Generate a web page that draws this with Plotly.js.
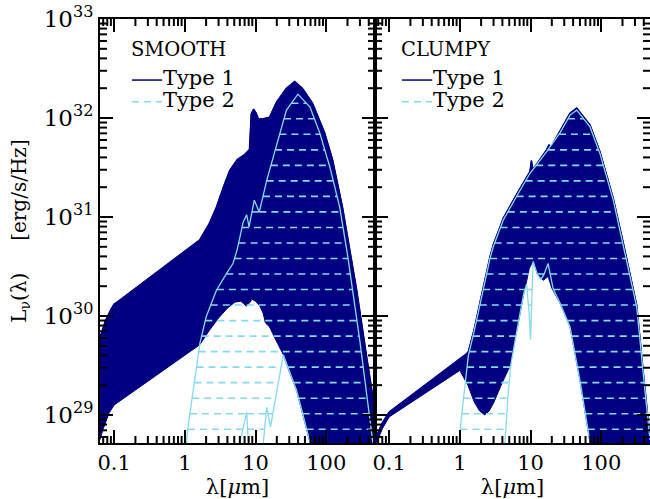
<!DOCTYPE html>
<html><head><meta charset="utf-8">
<script src="https://cdn.plot.ly/plotly-3.0.1.min.js"></script>
<style>html,body{margin:0;padding:0;background:#fff}#chart{width:650px;height:499px}</style>
</head><body><div id="chart"></div>
<script>
// ---------------- DATA (wavelength in micron, L_nu in erg/s/Hz) ----------------
// SMOOTH panel
const smoothType1UpperLam = [0.063, 0.075, 0.09, 0.1, 0.11, 1.1, 1.63, 2.2, 2.8, 3.5, 4.3, 5.5, 7.0, 8.2, 8.7, 9.4, 10.2, 11, 12.5, 15.8, 19.8, 27.3, 35.8, 46, 64, 95, 123, 170, 200, 270, 373, 490];
const smoothType1UpperL   = [6.03e29, 8.91e29, 1.17e30, 1.32e30, 1.38e30, 4.68e30, 5.89e30, 8.51e30, 1.26e31, 2.00e31, 2.95e31, 3.80e31, 4.27e31, 4.79e31, 1.10e32, 1.23e32, 1.12e32, 9.77e31, 9.77e31, 1.02e32, 1.45e32, 2.00e32, 2.34e32, 2.00e32, 1.41e32, 7.08e31, 3.80e31, 1.26e31, 6.31e30, 1.82e30, 3.89e29, 1.12e29];
const smoothType1LowerLam = [0.063, 0.07, 0.085, 0.1, 0.115, 1.63, 2.2, 3.0, 4.0, 5.1, 6.2, 7.4, 8.2, 8.9, 10, 11.5, 12.8, 13.8, 15.8, 19, 24.7, 30, 38, 47, 59, 70, 490];
const smoothType1LowerL   = [5.62e28, 7.24e28, 1.05e29, 1.26e29, 1.35e29, 5.13e29, 7.08e29, 9.55e29, 1.20e30, 1.38e30, 1.41e30, 1.26e30, 1.35e30, 1.48e30, 1.41e30, 1.26e30, 1.07e30, 8.51e29, 7.76e29, 5.89e29, 4.07e29, 2.75e29, 1.78e29, 1.00e29, 5.25e28, 1e28, 1e28];
const smoothType2UpperLam = [1.0, 1.06, 1.11, 1.38, 1.63, 2.0, 2.8, 3.9, 4.8, 5.5, 6.7, 7.5, 8.1, 9.6, 11.3, 14.4, 19.9, 27.4, 39.8, 58.9, 81, 112, 155, 200, 300, 444, 490];
const smoothType2UpperL   = [1e28, 5.25e28, 7.59e28, 2.24e29, 5.25e29, 9.77e29, 1.82e30, 2.69e30, 3.39e30, 4.68e30, 8.91e30, 1.05e31, 7.94e30, 1.48e31, 1.12e31, 2.34e31, 5.50e31, 1.20e32, 1.74e32, 1.29e32, 7.08e31, 3.24e31, 1.26e31, 4.17e30, 5.50e29, 6.31e28, 3.55e28];
const smoothType2LowerLam = [0.06, 5.9, 6.0, 7.5, 7.9, 8.0, 12.7, 12.9, 14.4, 16.3, 24.7, 30, 38, 47, 59, 70, 500];
const smoothType2LowerL   = [1e28, 1e28, 5.25e28, 1.07e29, 5.25e28, 1e28, 1e28, 5.25e28, 1.20e29, 7.59e28, 4.07e29, 2.75e29, 1.78e29, 1.00e29, 5.25e28, 1e28, 1e28];

// CLUMPY panel
const clumpyType1UpperLam = [0.063, 0.08, 0.1, 1.0, 1.25, 1.32, 1.6, 1.93, 2.3, 2.67, 2.97, 4.12, 6.37, 9.8, 10.3, 10.8, 16.9, 18.2, 19.2, 26.1, 36.2, 45, 69.4, 96, 148, 205, 318, 393, 490];
const clumpyType1UpperL   = [5.62e28, 8.32e28, 1.07e29, 3.63e29, 4.17e29, 4.37e29, 7.41e29, 1.38e30, 2.51e30, 3.98e30, 5.25e30, 9.77e30, 1.70e31, 2.88e31, 3.72e31, 3.02e31, 4.79e31, 5.37e31, 5.01e31, 7.41e31, 1.12e32, 1.26e32, 8.51e31, 4.57e31, 1.55e31, 5.50e30, 1.29e30, 2.75e29, 5.89e28];
const clumpyType1LowerLam = [0.063, 0.08, 0.1, 1.0, 1.3, 1.6, 1.9, 2.25, 2.6, 3.0, 4.0, 5.1, 6.0, 7.0, 8.0, 8.8, 9.6, 10.9, 12.5, 15.1, 17.7, 20, 26.1, 36.2, 50, 69.4, 80, 490];
const clumpyType1LowerL   = [4.79e28, 7.24e28, 9.55e28, 2.82e29, 2.00e29, 1.35e29, 1.10e29, 1.00e29, 1.10e29, 1.32e29, 2.14e29, 3.09e29, 5.62e29, 1.00e30, 1.66e30, 2.24e30, 3.02e30, 3.63e30, 2.63e30, 2.29e30, 2.51e30, 1.91e30, 1.35e30, 7.76e29, 2.24e29, 5.25e28, 1e28, 1e28];
const clumpyType2UpperLam = [0.9, 0.97, 1.1, 1.32, 1.6, 1.93, 2.3, 2.67, 2.97, 4.12, 6.37, 9.8, 16.9, 26.1, 36.2, 45, 69.4, 96, 148, 205, 318, 393, 490];
const clumpyType2UpperL   = [1e28, 5.25e28, 1.26e29, 3.98e29, 7.08e29, 1.32e30, 2.40e30, 3.80e30, 5.01e30, 9.33e30, 1.62e31, 2.75e31, 4.57e31, 7.08e31, 1.07e32, 1.20e32, 8.13e31, 4.37e31, 1.48e31, 5.25e30, 1.23e30, 2.63e29, 5.62e28];
const clumpyType2LowerLam = [0.06, 4.2, 4.35, 4.8, 5.3, 6.0, 7.0, 8.0, 8.8, 9.5, 10.0, 10.4, 10.9, 12.5, 14.0, 15.5, 17.7, 19.0, 21, 26.1, 36.2, 50, 69.4, 80, 500];
const clumpyType2LowerL   = [1e28, 1e28, 5.25e28, 1.58e29, 3.31e29, 5.62e29, 1.00e30, 1.66e30, 2.09e30, 1.12e30, 5.75e29, 1.41e30, 3.55e30, 2.63e30, 2.34e30, 2.63e30, 3.39e30, 2.63e30, 1.86e30, 1.35e30, 7.76e29, 2.24e29, 5.25e28, 1e28, 1e28];

// tick labels and names
const xTickVals = [0.1, 1, 10, 100];
const xTickText = ['0.1', '1', '10', '100'];
const yTickVals = [1e29, 1e30, 1e31, 1e32, 1e33];
const yTickText = ['10<sup>29</sup>', '10<sup>30</sup>', '10<sup>31</sup>', '10<sup>32</sup>', '10<sup>33</sup>'];
const panelNames = ['SMOOTH', 'CLUMPY'];
const seriesNames = ['Type 1', 'Type 2'];
const yTitle = 'L<sub>ν</sub>(λ)\u00a0\u00a0\u00a0\u00a0\u00a0[erg/s/Hz]';

// ---------------- STYLE ----------------
const NAVY = '#000080';
const CYAN = '#86D9EE';
const TICK_COLOR = '#000000';
const FONT = 'DejaVu Serif, serif';
const HATCH_BASE = 28.856, HATCH_STEP = 0.1568; // spacing of the hatch pattern (log10 units)
const X_RANGE = [-1.2, 2.69], Y_RANGE = [28.717, 33];
const PANEL_W = 275, PANEL_H = 424, MINOR_LEN = 7;

function hatchLevels() {
  const out = [];
  for (let v = HATCH_BASE; v < Y_RANGE[1]; v += HATCH_STEP) out.push(v);
  return out;
}
function interpLog(lams, Ls, lam) {
  const lx = Math.log10(lam);
  if (lam <= lams[0]) return Math.log10(Ls[0]);
  for (let i = 1; i < lams.length; i++) {
    if (lam <= lams[i]) {
      const x0 = Math.log10(lams[i - 1]), x1 = Math.log10(lams[i]);
      const t = (lx - x0) / (x1 - x0);
      return Math.log10(Ls[i - 1]) * (1 - t) + Math.log10(Ls[i]) * t;
    }
  }
  return Math.log10(Ls[Ls.length - 1]);
}
// horizontal dashed hatch segments inside the band between lower and upper curves
function hatch(upLam, upL, loLam, loL) {
  const xs = [], ys = [];
  const lo = Math.log10(Math.max(upLam[0], loLam[0]));
  const hi = Math.log10(Math.min(upLam[upLam.length - 1], loLam[loLam.length - 1]));
  const N = 3000;
  hatchLevels().forEach(Lv => {
    let inside = false, start = null;
    for (let i = 0; i <= N; i++) {
      const lam = Math.pow(10, lo + (hi - lo) * i / N);
      const u = interpLog(upLam, upL, lam), l = interpLog(loLam, loL, lam);
      const ins = (u > Lv) && (l < Lv);
      if (ins && !inside) { start = lam; inside = true; }
      else if (!ins && inside) { xs.push(start, lam, null); ys.push(Math.pow(10, Lv), Math.pow(10, Lv), null); inside = false; }
    }
    if (inside) { xs.push(start, Math.pow(10, hi), null); ys.push(Math.pow(10, Lv), Math.pow(10, Lv), null); }
  });
  return { x: xs, y: ys };
}
function minorVals(d0, d1, lo, hi) {
  const out = [];
  for (let d = d0; d <= d1; d++) for (let k = 2; k <= 9; k++) {
    const v = k * Math.pow(10, d);
    if (Math.log10(v) > lo && Math.log10(v) < hi) out.push(v);
  }
  return out;
}
// minor tick marks, inside on all four sides of a panel, through the axis scales
function minorTickTrace(xa, ya) {
  const xs = [], ys = [];
  const dy = MINOR_LEN * (Y_RANGE[1] - Y_RANGE[0]) / PANEL_H;
  const dx = MINOR_LEN * (X_RANGE[1] - X_RANGE[0]) / PANEL_W;
  const pw = e => Math.pow(10, e);
  minorVals(-2, 2, X_RANGE[0], X_RANGE[1]).forEach(v => {
    xs.push(v, v, null); ys.push(pw(Y_RANGE[0]), pw(Y_RANGE[0] + dy), null);
    xs.push(v, v, null); ys.push(pw(Y_RANGE[1]), pw(Y_RANGE[1] - dy), null);
  });
  minorVals(28, 32, Y_RANGE[0], Y_RANGE[1]).forEach(v => {
    xs.push(pw(X_RANGE[0]), pw(X_RANGE[0] + dx), null); ys.push(v, v, null);
    xs.push(pw(X_RANGE[1]), pw(X_RANGE[1] - dx), null); ys.push(v, v, null);
  });
  return { x: xs, y: ys, type: 'scatter', mode: 'lines', line: { color: TICK_COLOR, width: 2, simplify: false },
           xaxis: xa, yaxis: ya, showlegend: false, hoverinfo: 'skip', connectgaps: false };
}

function panelTraces(p, xa, ya) {
  const poly = {
    x: p.t1uLam.concat(p.t1lLam.slice().reverse()),
    y: p.t1uL.concat(p.t1lL.slice().reverse()),
    type: 'scatter', mode: 'lines', fill: 'toself', fillcolor: NAVY,
    line: { color: NAVY, width: 1 }, xaxis: xa, yaxis: ya, showlegend: false, hoverinfo: 'skip'
  };
  const t1line = {
    x: p.t1uLam, y: p.t1uL, type: 'scatter', mode: 'lines', name: seriesNames[0],
    line: { color: NAVY, width: 1.5 }, xaxis: xa, yaxis: ya, showlegend: false
  };
  const h = hatch(p.t2uLam, p.t2uL, p.t2lLam, p.t2lL);
  const hatchTr = {
    x: h.x, y: h.y, type: 'scatter', mode: 'lines', name: seriesNames[1], connectgaps: false,
    line: { color: CYAN, width: 1.6, dash: '7px,5px' }, xaxis: xa, yaxis: ya, showlegend: false
  };
  const c1 = { x: p.t2uLam, y: p.t2uL, type: 'scatter', mode: 'lines', name: seriesNames[1], line: { color: CYAN, width: 1.3 }, xaxis: xa, yaxis: ya, showlegend: false };
  const c2 = { x: p.t2lLam, y: p.t2lL, type: 'scatter', mode: 'lines', name: seriesNames[1], line: { color: CYAN, width: 1.3 }, xaxis: xa, yaxis: ya, showlegend: false };
  return [poly, t1line, hatchTr, c1, c2, minorTickTrace(xa, ya)];
}

const smooth = { t1uLam: smoothType1UpperLam, t1uL: smoothType1UpperL, t1lLam: smoothType1LowerLam, t1lL: smoothType1LowerL,
                 t2uLam: smoothType2UpperLam, t2uL: smoothType2UpperL, t2lLam: smoothType2LowerLam, t2lL: smoothType2LowerL };
const clumpy = { t1uLam: clumpyType1UpperLam, t1uL: clumpyType1UpperL, t1lLam: clumpyType1LowerLam, t1lL: clumpyType1LowerL,
                 t2uLam: clumpyType2UpperLam, t2uL: clumpyType2UpperL, t2lLam: clumpyType2LowerLam, t2lL: clumpyType2LowerL };

const data = panelTraces(smooth, 'x', 'y').concat(panelTraces(clumpy, 'x2', 'y2'));

function xAxis(domain, anchor) {
  return {
    domain: domain, anchor: anchor, type: 'log', range: X_RANGE.slice(),
    tickmode: 'array', tickvals: xTickVals, ticktext: xTickText,
    ticks: 'inside', ticklen: 13, tickwidth: 2, tickcolor: '#000',
    showline: true, linecolor: '#000', linewidth: 2, mirror: 'allticks',
    showgrid: false, zeroline: false,
    tickfont: { family: FONT, size: 21, color: '#000' },
    title: { text: 'λ[<i>μ</i>m]', font: { family: FONT, size: 21, color: '#000' }, standoff: 0 }
  };
}
function yAxis(anchor, labels) {
  return {
    anchor: anchor, domain: [0, 1], type: 'log', range: Y_RANGE.slice(),
    tickmode: 'array', tickvals: yTickVals, ticktext: yTickText,
    ticks: 'inside', ticklen: 13, tickwidth: 2, tickcolor: '#000',
    showline: true, linecolor: '#000', linewidth: 2, mirror: 'allticks',
    showgrid: false, zeroline: false, showticklabels: labels,
    tickfont: { family: FONT, size: 23, color: '#000' }
  };
}

// legend drawn inside each panel (title, line samples, labels)
function panelLegend(xd, yd, x0, title) {
  const ann = [
    { text: title, xref: xd, yref: yd, x: x0 - 0.011, y: 0.927, xanchor: 'left', yanchor: 'middle', showarrow: false, font: { family: FONT, size: 19.5, color: '#000' } },
    { text: seriesNames[0], xref: xd, yref: yd, x: x0 + 0.105, y: 0.860, xanchor: 'left', yanchor: 'middle', showarrow: false, font: { family: FONT, size: 21, color: '#000' } },
    { text: seriesNames[1], xref: xd, yref: yd, x: x0 + 0.105, y: 0.809, xanchor: 'left', yanchor: 'middle', showarrow: false, font: { family: FONT, size: 21, color: '#000' } }
  ];
  const shp = [
    { type: 'line', xref: xd, yref: yd, x0: x0, x1: x0 + 0.11, y0: 0.856, y1: 0.856, line: { color: NAVY, width: 1.5 } },
    { type: 'line', xref: xd, yref: yd, x0: x0, x1: x0 + 0.11, y0: 0.805, y1: 0.805, line: { color: CYAN, width: 1.6, dash: '7px,5px' } }
  ];
  return { ann, shp };
}
const lg1 = panelLegend('x domain', 'y domain', 0.116, panelNames[0]);
const lg2 = panelLegend('x2 domain', 'y2 domain', 0.098, panelNames[1]);
const yTitleAnn = { text: yTitle, xref: 'paper', yref: 'paper', x: -0.146, y: 0.5, xanchor: 'center', yanchor: 'middle',
                    textangle: -90, showarrow: false, font: { family: FONT, size: 20, color: '#000' } };

const layout = {
  width: 650, height: 499,
  margin: { l: 100, r: 0, t: 19, b: 56 },
  paper_bgcolor: '#fff', plot_bgcolor: '#fff',
  showlegend: false,
  xaxis: xAxis([0, 0.5], 'y'),
  xaxis2: xAxis([0.5, 1], 'y2'),
  yaxis: yAxis('x', true),
  yaxis2: yAxis('x2', false),
  annotations: lg1.ann.concat(lg2.ann, [yTitleAnn]),
  shapes: lg1.shp.concat(lg2.shp)
};

Plotly.newPlot('chart', data, layout, { staticPlot: true, displayModeBar: false });
</script>
</body></html>
